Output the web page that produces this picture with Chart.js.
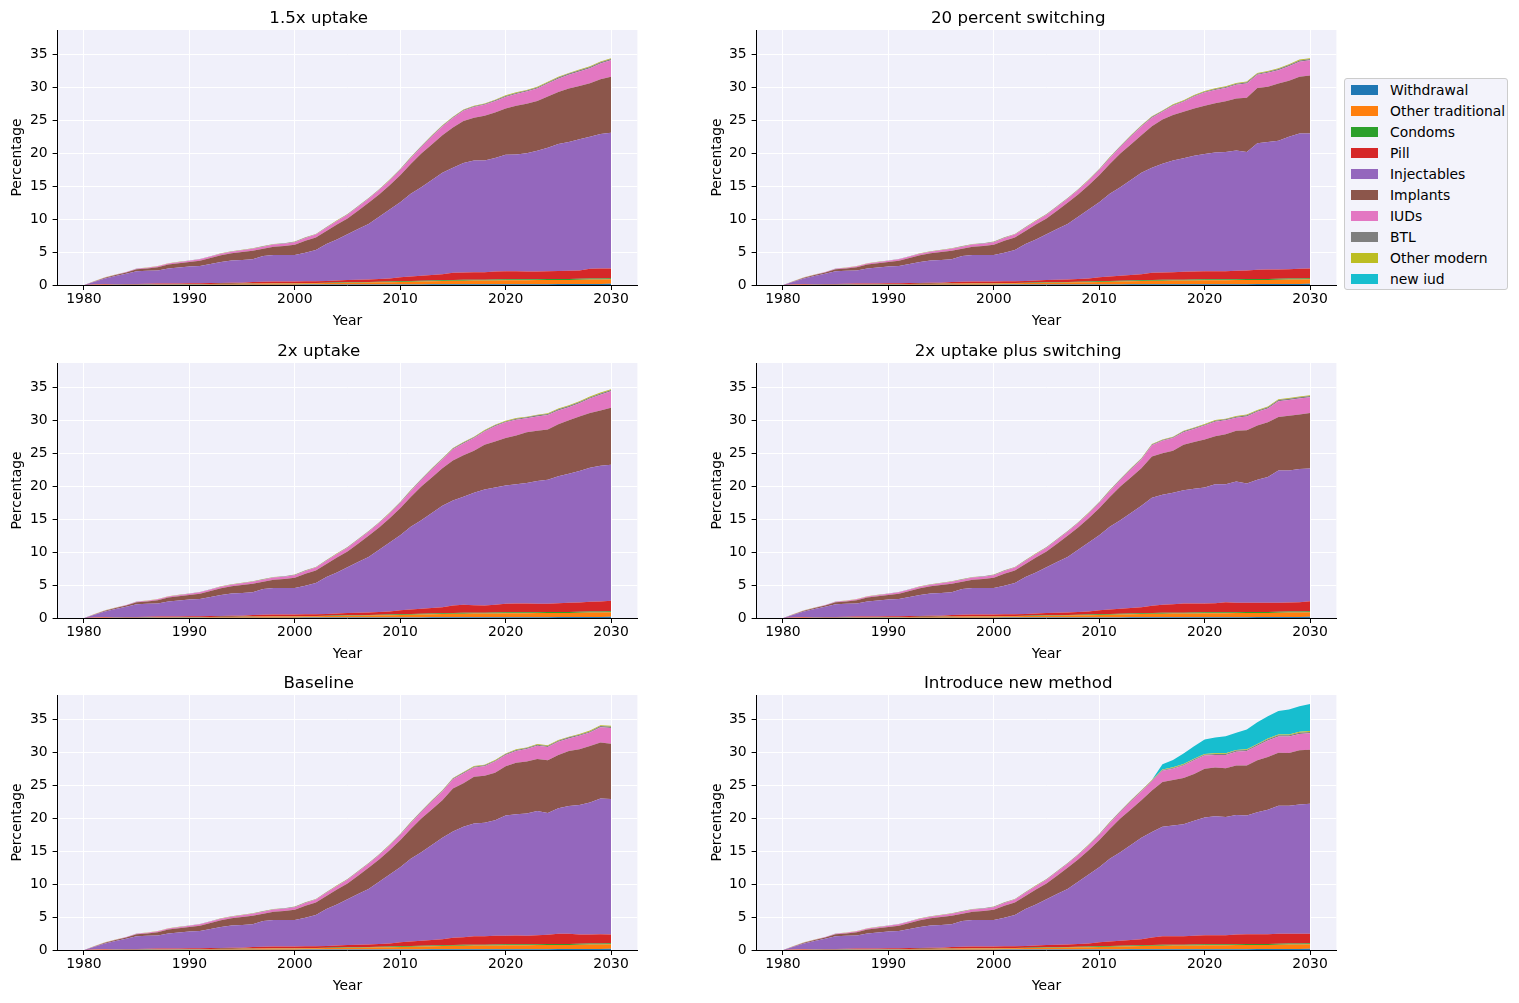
<!DOCTYPE html>
<html>
<head>
<meta charset="utf-8">
<script src="https://cdn.jsdelivr.net/npm/chart.js@4/dist/chart.umd.min.js"></script>
<style>
  html, body { margin:0; padding:0; background:#ffffff; }
  body { width:1519px; height:1003px; position:relative; overflow:hidden; font-family:"DejaVu Sans", sans-serif; }
  canvas { position:absolute; }
  #legend { position:absolute; left:1344px; top:78px; width:164px; height:212px; border:1px solid #cccccc; border-radius:3px; background:#f3f3fb; box-sizing:border-box; }
  .li { position:absolute; left:0; height:21px; width:164px; }
  .sw { position:absolute; left:6px; top:5.5px; width:27px; height:10px; }
  .lt { position:absolute; left:45px; top:0; line-height:21px; font-size:13.9px; color:#000; white-space:nowrap; }
</style>
</head>
<body>
<div id="legend"></div>
<script>
// ---------------- DATA ----------------
const years = [1980,1981,1982,1983,1984,1985,1986,1987,1988,1989,1990,1991,1992,1993,1994,1995,1996,1997,1998,1999,2000,2001,2002,2003,2004,2005,2006,2007,2008,2009,2010,2011,2012,2013,2014,2015,2016,2017,2018,2019,2020,2021,2022,2023,2024,2025,2026,2027,2028,2029,2030];
const xTickValues = [1980,1990,2000,2010,2020,2030];
const yTickValues = [0,5,10,15,20,25,30,35];
const methods = ['Withdrawal','Other traditional','Condoms','Pill','Injectables','Implants','IUDs','BTL','Other modern','new iud'];
const scenarioTitles = ['1.5x uptake','20 percent switching','2x uptake','2x uptake plus switching','Baseline','Introduce new method'];

// small methods (shared by all scenarios)
const withdrawal = [0,0.01,0.01,0.02,0.02,0.02,0.02,0.03,0.03,0.03, 0.03,0.03,0.04,0.04,0.04,0.04,0.05,0.05,0.05,0.05, 0.05,0.06,0.06,0.06,0.07,0.07,0.07,0.08,0.08,0.08, 0.09,0.09,0.09,0.1,0.1,0.1,0.11,0.11,0.11,0.12, 0.12,0.12,0.12,0.13,0.13,0.14,0.14,0.15,0.16,0.17,0.18];
const otherTraditional = [0,0.02,0.03,0.04,0.05,0.06,0.07,0.07,0.08,0.09, 0.1,0.1,0.11,0.12,0.13,0.14,0.15,0.16,0.17,0.18, 0.19,0.2,0.21,0.23,0.25,0.27,0.29,0.31,0.33,0.35, 0.38,0.41,0.44,0.47,0.5,0.53,0.55,0.56,0.57,0.58, 0.6,0.6,0.61,0.61,0.62,0.62,0.63,0.64,0.66,0.68,0.7];
const condoms = [0,0.01,0.01,0.01,0.01,0.01,0.01,0.02,0.02,0.02, 0.02,0.02,0.02,0.03,0.03,0.03,0.03,0.03,0.04,0.04, 0.04,0.05,0.05,0.06,0.06,0.07,0.07,0.08,0.08,0.09, 0.1,0.1,0.11,0.11,0.12,0.12,0.12,0.13,0.13,0.13, 0.14,0.14,0.14,0.14,0.15,0.15,0.15,0.15,0.15,0.15,0.15];
const btl = [0,0.01,0.01,0.02,0.02,0.02,0.03,0.03,0.03,0.03, 0.03,0.04,0.04,0.04,0.04,0.05,0.05,0.05,0.05,0.05, 0.06,0.06,0.06,0.07,0.07,0.07,0.08,0.08,0.08,0.09, 0.09,0.1,0.1,0.11,0.11,0.12,0.12,0.13,0.13,0.14, 0.14,0.15,0.15,0.16,0.16,0.17,0.17,0.18,0.18,0.19,0.2];
const otherModern = [0,0.01,0.01,0.01,0.01,0.01,0.01,0.01,0.02,0.02, 0.02,0.02,0.02,0.02,0.03,0.03,0.03,0.03,0.03,0.03, 0.04,0.04,0.04,0.04,0.05,0.05,0.05,0.05,0.06,0.06, 0.06,0.07,0.07,0.07,0.08,0.08,0.08,0.09,0.09,0.09, 0.1,0.1,0.1,0.1,0.11,0.11,0.11,0.11,0.12,0.12,0.12];
const newIudNone = [0,0,0,0,0,0,0,0,0,0, 0,0,0,0,0,0,0,0,0,0, 0,0,0,0,0,0,0,0,0,0, 0,0,0,0,0,0,0,0,0,0, 0,0,0,0,0,0,0,0,0,0,0];

// 1.5x uptake
const pill_15x = [0,0.02,0.05,0.05,0.06,0.07,0.08,0.09,0.1,0.1, 0.11,0.12,0.12,0.13,0.14,0.15,0.22,0.26,0.26,0.27, 0.27,0.26,0.24,0.26,0.3,0.34,0.37,0.38,0.41,0.47, 0.6,0.7,0.75,0.83,0.92, 1.1,1.12,1.12,1.13,1.21,1.24,1.22,1.19,1.18,1.17,1.2,1.24,1.27,1.49,1.51,1.47];
const inj_15x = [0,0.44,0.9,1.23,1.56,1.94,1.97,2.0,2.28,2.41, 2.54,2.62,2.9,3.18,3.36,3.44,3.45,3.9,4.03,4.01, 4.0,4.34,4.74,5.6,6.22,6.95,7.68,8.42,9.45,10.45, 11.4,12.55,13.45,14.42,15.38, 15.95,16.6,16.98,16.95,17.25,17.65,17.72,17.94,18.3,18.75,19.3,19.55,19.9,20.05,20.4,20.6];
const imp_15x = [0,0.05,0.1,0.15,0.2,0.3,0.35,0.5,0.6,0.65, 0.7,0.8,0.9,1.0,1.1,1.2,1.3,1.1,1.25,1.35, 1.55,1.8,1.9,2.0,2.3,2.4,2.8,3.2,3.4,3.7, 4.1,4.5,5.1,5.4,5.7, 6.1,6.4,6.5,6.8,6.9,7.05,7.4,7.5,7.55,7.8,7.9,8.1,8.1,8.1,8.3,8.5];
const iud_15x = [0,0.02,0.04,0.05,0.06,0.08,0.1,0.12,0.14,0.16, 0.18,0.2,0.22,0.24,0.26,0.28,0.3,0.32,0.35,0.37, 0.4,0.42,0.45,0.47,0.5,0.55,0.58,0.62,0.66,0.72, 0.8,0.9,1.0,1.2,1.35, 1.45,1.55,1.6,1.65,1.7,1.75,1.8,1.85,1.9,1.95,2.0,2.1,2.2,2.3,2.4,2.5];

// 20 percent switching
const pill_sw20 = [0,0.02,0.05,0.05,0.06,0.07,0.08,0.09,0.1,0.1, 0.11,0.12,0.12,0.13,0.14,0.15,0.22,0.26,0.26,0.27, 0.27,0.26,0.24,0.26,0.3,0.34,0.37,0.38,0.41,0.47, 0.6,0.7,0.75,0.83,0.92, 1.1,1.12,1.15,1.19,1.22,1.24,1.24,1.23,1.27,1.3,1.39,1.43,1.41,1.43,1.45,1.47];
const inj_sw20 = [0,0.44,0.9,1.23,1.56,1.94,1.97,2.0,2.28,2.41, 2.54,2.62,2.9,3.18,3.36,3.44,3.45,3.9,4.03,4.01, 4.0,4.34,4.74,5.6,6.22,6.95,7.68,8.42,9.45,10.45, 11.4,12.55,13.45,14.42,15.38, 15.95,16.5,16.95,17.25,17.55,17.8,18.0,18.1,18.25,18.0,19.2,19.35,19.55,20.1,20.55,20.5];
const imp_sw20 = [0,0.05,0.1,0.15,0.2,0.3,0.35,0.5,0.6,0.65, 0.7,0.8,0.9,1.0,1.1,1.2,1.3,1.1,1.25,1.35, 1.55,1.8,1.9,2.0,2.3,2.4,2.8,3.2,3.4,3.7, 4.1,4.5,5.1,5.4,5.7, 6.3,6.7,6.9,7.05,7.2,7.3,7.5,7.7,7.9,8.2,8.4,8.4,8.7,8.5,8.6,8.8];
const iud_sw20 = [0,0.02,0.04,0.05,0.06,0.08,0.1,0.12,0.14,0.16, 0.18,0.2,0.22,0.24,0.26,0.28,0.3,0.32,0.35,0.37, 0.4,0.42,0.45,0.47,0.5,0.55,0.58,0.62,0.66,0.72, 0.8,0.9,1.0,1.2,1.35, 1.3,1.2,1.4,1.5,1.8,2.0,2.0,2.0,2.1,2.2,2.0,2.1,2.0,2.2,2.3,2.3];

// 2x uptake
const pill_2x = [0,0.02,0.05,0.05,0.06,0.07,0.08,0.09,0.1,0.1, 0.11,0.12,0.12,0.13,0.14,0.15,0.22,0.26,0.26,0.27, 0.27,0.26,0.24,0.26,0.3,0.34,0.37,0.38,0.41,0.47, 0.6,0.7,0.75,0.83,0.92, 1.15,1.22,1.15,1.09,1.17,1.29,1.34,1.33,1.27,1.25,1.34,1.38,1.41,1.48,1.5,1.57];
const inj_2x = [0,0.44,0.9,1.23,1.56,1.94,1.97,2.0,2.28,2.41, 2.54,2.62,2.9,3.18,3.36,3.44,3.45,3.9,4.03,4.01, 4.0,4.34,4.74,5.6,6.22,6.95,7.68,8.42,9.45,10.45, 11.4,12.55,13.45,14.42,15.38, 15.95,16.4,17.05,17.6,17.8,17.95,18.1,18.3,18.65,18.85,19.25,19.6,19.95,20.35,20.6,20.65];
const imp_2x = [0,0.05,0.1,0.15,0.2,0.3,0.35,0.5,0.6,0.65, 0.7,0.8,0.9,1.0,1.1,1.2,1.3,1.1,1.25,1.35, 1.55,1.8,1.9,2.0,2.3,2.4,2.8,3.2,3.4,3.7, 4.1,4.5,5.1,5.4,5.7, 6.05,6.3,6.4,6.8,7.0,7.2,7.4,7.7,7.6,7.6,7.9,8.1,8.3,8.3,8.4,8.65];
const iud_2x = [0,0.02,0.04,0.05,0.06,0.08,0.1,0.12,0.14,0.16, 0.18,0.2,0.22,0.24,0.26,0.28,0.3,0.32,0.35,0.37, 0.4,0.42,0.45,0.47,0.5,0.55,0.58,0.62,0.66,0.72, 0.8,0.9,1.0,1.2,1.35, 1.7,1.8,1.9,2.0,2.3,2.4,2.4,2.1,2.2,2.2,2.1,2.0,2.0,2.2,2.4,2.5];

// 2x uptake plus switching
const pill_2xsw = [0,0.02,0.05,0.05,0.06,0.07,0.08,0.09,0.1,0.1, 0.11,0.12,0.12,0.13,0.14,0.15,0.22,0.26,0.26,0.27, 0.27,0.26,0.24,0.26,0.3,0.34,0.37,0.38,0.41,0.47, 0.6,0.7,0.75,0.83,0.92, 1.1,1.22,1.3,1.39,1.37,1.34,1.39,1.53,1.42,1.4,1.39,1.38,1.36,1.38,1.4,1.52];
const inj_2xsw = [0,0.44,0.9,1.23,1.56,1.94,1.97,2.0,2.28,2.41, 2.54,2.62,2.9,3.18,3.36,3.44,3.45,3.9,4.03,4.01, 4.0,4.34,4.74,5.6,6.22,6.95,7.68,8.42,9.45,10.45, 11.4,12.55,13.45,14.42,15.38, 16.4,16.7,16.9,17.2,17.4,17.6,18.05,17.9,18.4,18.1,18.7,19.1,20.1,20.05,20.2,20.15];
const imp_2xsw = [0,0.05,0.1,0.15,0.2,0.3,0.35,0.5,0.6,0.65, 0.7,0.8,0.9,1.0,1.1,1.2,1.3,1.1,1.25,1.35, 1.55,1.8,1.9,2.0,2.3,2.4,2.8,3.2,3.4,3.7, 4.1,4.5,5.1,5.4,5.7, 6.25,6.3,6.4,6.9,7.1,7.3,7.3,7.6,7.7,8.1,8.2,8.3,8.1,8.3,8.3,8.4];
const iud_2xsw = [0,0.02,0.04,0.05,0.06,0.08,0.1,0.12,0.14,0.16, 0.18,0.2,0.22,0.24,0.26,0.28,0.3,0.32,0.35,0.37, 0.4,0.42,0.45,0.47,0.5,0.55,0.58,0.62,0.66,0.72, 0.8,0.9,1.0,1.2,1.35, 1.7,1.9,1.9,1.9,2.0,2.1,2.2,2.1,2.0,2.1,2.1,2.1,2.4,2.4,2.4,2.4];

// Baseline
const pill_base = [0,0.02,0.05,0.05,0.06,0.07,0.08,0.09,0.1,0.1, 0.11,0.12,0.12,0.13,0.14,0.15,0.22,0.26,0.26,0.27, 0.27,0.26,0.24,0.26,0.3,0.34,0.37,0.38,0.41,0.47, 0.6,0.7,0.75,0.83,0.92, 1.12,1.17,1.3,1.29,1.32,1.31,1.34,1.28,1.37,1.4,1.56,1.55,1.41,1.38,1.4,1.34];
const inj_base = [0,0.44,0.9,1.23,1.56,1.94,1.97,2.0,2.28,2.41, 2.54,2.62,2.9,3.18,3.36,3.44,3.45,3.9,4.03,4.01, 4.0,4.34,4.74,5.6,6.22,6.95,7.68,8.42,9.45,10.45, 11.4,12.55,13.45,14.42,15.38, 16.13,16.75,17.1,17.2,17.55,18.23,18.4,18.55,18.85,18.5,19.03,19.38,19.65,20.05,20.6,20.53];
const imp_base = [0,0.05,0.1,0.15,0.2,0.3,0.35,0.5,0.6,0.65, 0.7,0.8,0.9,1.0,1.1,1.2,1.3,1.1,1.25,1.35, 1.55,1.8,1.9,2.0,2.3,2.4,2.8,3.2,3.4,3.7, 4.1,4.5,5.1,5.4,5.7, 6.5,6.6,7.1,7.15,7.2,7.5,7.8,7.9,7.9,8.0,8.1,8.35,8.45,8.55,8.5,8.4];
const iud_base = [0,0.02,0.04,0.05,0.06,0.08,0.1,0.12,0.14,0.16, 0.18,0.2,0.22,0.24,0.26,0.28,0.3,0.32,0.35,0.37, 0.4,0.42,0.45,0.47,0.5,0.55,0.58,0.62,0.66,0.72, 0.8,0.9,1.0,1.2,1.35, 1.4,1.5,1.4,1.45,1.7,1.7,1.8,1.9,2.0,2.0,2.0,1.9,2.05,2.05,2.3,2.4];

// Introduce new method
const pill_new = [0,0.02,0.05,0.05,0.06,0.07,0.08,0.09,0.1,0.1, 0.11,0.12,0.12,0.13,0.14,0.15,0.22,0.26,0.26,0.27, 0.27,0.26,0.24,0.26,0.3,0.34,0.37,0.38,0.41,0.47, 0.6,0.7,0.75,0.83,0.92, 1.15,1.32,1.3,1.29,1.32,1.39,1.39,1.38,1.47,1.5,1.49,1.48,1.51,1.48,1.45,1.42];
const inj_new = [0,0.44,0.9,1.23,1.56,1.94,1.97,2.0,2.28,2.41, 2.54,2.62,2.9,3.18,3.36,3.44,3.45,3.9,4.03,4.01, 4.0,4.34,4.74,5.6,6.22,6.95,7.68,8.42,9.45,10.45, 11.4,12.55,13.45,14.42,15.38, 16.0,16.6,16.8,17.0,17.45,17.85,18.05,17.95,18.15,18.0,18.5,18.9,19.45,19.45,19.65,19.75];
const imp_new = [0,0.05,0.1,0.15,0.2,0.3,0.35,0.5,0.6,0.65, 0.7,0.8,0.9,1.0,1.1,1.2,1.3,1.1,1.25,1.35, 1.55,1.8,1.9,2.0,2.3,2.4,2.8,3.2,3.4,3.7, 4.1,4.5,5.1,5.4,5.7, 6.3,6.8,6.9,7.0,7.1,7.4,7.4,7.4,7.5,7.6,7.9,8.0,8.05,8.0,8.2,8.2];
const iud_new = [0,0.02,0.04,0.05,0.06,0.08,0.1,0.12,0.14,0.16, 0.18,0.2,0.22,0.24,0.26,0.28,0.3,0.32,0.35,0.37, 0.4,0.42,0.45,0.47,0.5,0.55,0.58,0.62,0.66,0.72, 0.8,0.9,1.0,1.2,1.35, 1.4,1.7,1.7,1.9,2.1,2.0,1.9,2.0,2.1,2.2,2.2,2.5,2.45,2.5,2.5,2.5];
const newiud_new = [0,0,0,0,0,0,0,0,0,0, 0,0,0,0,0,0,0,0,0,0, 0,0,0,0,0,0,0,0,0,0, 0,0,0,0,0, 0,0.8,1.1,1.6,1.9,2.2,2.4,2.6,2.6,3.0,3.3,3.4,3.6,3.8,3.9,4.1];

// ---------------- STYLE ----------------
const colors = ['#1f77b4','#ff7f0e','#2ca02c','#d62728','#9467bd','#8c564b','#e377c2','#7f7f7f','#bcbd22','#17becf'];
const FONT = '"DejaVu Sans", sans-serif';
const AX_BG = '#f0f0fa';

const panels = [
  { series:[withdrawal,otherTraditional,condoms,pill_15x,inj_15x,imp_15x,iud_15x,btl,otherModern,newIudNone], col:0, row:0 },
  { series:[withdrawal,otherTraditional,condoms,pill_sw20,inj_sw20,imp_sw20,iud_sw20,btl,otherModern,newIudNone], col:1, row:0 },
  { series:[withdrawal,otherTraditional,condoms,pill_2x,inj_2x,imp_2x,iud_2x,btl,otherModern,newIudNone], col:0, row:1 },
  { series:[withdrawal,otherTraditional,condoms,pill_2xsw,inj_2xsw,imp_2xsw,iud_2xsw,btl,otherModern,newIudNone], col:1, row:1 },
  { series:[withdrawal,otherTraditional,condoms,pill_base,inj_base,imp_base,iud_base,btl,otherModern,newIudNone], col:0, row:2 },
  { series:[withdrawal,otherTraditional,condoms,pill_new,inj_new,imp_new,iud_new,btl,otherModern,newiud_new], col:1, row:2 }
];
panels.forEach(p => p.series.forEach(s => { if (s.length !== years.length) throw new Error('bad length ' + s.length); }));

// geometry (pixels)
const colCanvasLeft = [0, 700];
const colAxisLeft = [57.6, 756.6];
const colAxisRight = [637.4, 1336.4];
const rowCanvasTop = [0, 333, 665];
const CANVAS_W = 650, CANVAS_H = 335;
const XAXIS_H = 46, BOTTOM_PAD = 4;

const bgPlugin = {
  id: 'axbg',
  beforeDraw(chart) {
    const a = chart.chartArea; const ctx = chart.ctx;
    ctx.save(); ctx.fillStyle = AX_BG; ctx.fillRect(a.left, a.top, a.right - a.left, a.bottom - a.top); ctx.restore();
  }
};

panels.forEach((p, k) => {
  const cv = document.createElement('canvas');
  cv.width = CANVAS_W; cv.height = CANVAS_H;
  cv.style.left = colCanvasLeft[p.col] + 'px';
  cv.style.top = rowCanvasTop[p.row] + 'px';
  cv.style.width = CANVAS_W + 'px'; cv.style.height = CANVAS_H + 'px';
  document.body.appendChild(cv);
  const yW = colAxisLeft[p.col] - colCanvasLeft[p.col];
  const rightPad = colCanvasLeft[p.col] + CANVAS_W - colAxisRight[p.col];
  const datasets = p.series.map((arr, i) => ({
    label: methods[i],
    data: years.map((yr, j) => ({ x: yr, y: arr[j] })),
    backgroundColor: colors[i],
    borderColor: 'rgba(0,0,0,0)',
    borderWidth: 0,
    pointRadius: 0,
    pointHoverRadius: 0,
    tension: 0,
    fill: i === 0 ? 'origin' : '-1'
  }));
  new Chart(cv, {
    type: 'line',
    data: { datasets },
    plugins: [bgPlugin],
    options: {
      responsive: false, animation: false, devicePixelRatio: 1, events: [],
      layout: { padding: { left: 0, right: rightPad, top: 0, bottom: BOTTOM_PAD } },
      plugins: {
        legend: { display: false }, tooltip: { enabled: false },
        title: { display: true, text: scenarioTitles[k], color: '#000', font: { family: FONT, size: 16.67, weight: 'normal', lineHeight: 1.2 }, padding: { top: 9, bottom: 1 } }
      },
      scales: {
        x: {
          type: 'linear', min: 1977.5, max: 2032.5,
          afterBuildTicks: s => { s.ticks = xTickValues.map(v => ({ value: v })); },
          afterFit: s => { s.height = XAXIS_H; },
          grid: { color: '#ffffff', lineWidth: 1, drawTicks: true, tickLength: 5, tickColor: '#000', tickWidth: 1 },
          border: { display: true, color: '#000', width: 1 },
          ticks: { color: '#000', font: { family: FONT, size: 13.9 }, padding: 1, maxRotation: 0, autoSkip: false, callback: v => String(v) },
          title: { display: true, text: 'Year', color: '#000', font: { family: FONT, size: 13.9 }, padding: { top: 0, bottom: 1 } }
        },
        y: {
          type: 'linear', stacked: true, min: 0, max: 38.7,
          afterBuildTicks: s => { s.ticks = yTickValues.map(v => ({ value: v })); },
          afterFit: s => { s.width = yW; },
          grid: { color: '#ffffff', lineWidth: 1, drawTicks: true, tickLength: 5, tickColor: '#000', tickWidth: 1 },
          border: { display: true, color: '#000', width: 1 },
          ticks: { color: '#000', font: { family: FONT, size: 13.9 }, padding: 5, autoSkip: false, callback: v => String(v) },
          title: { display: true, text: 'Percentage', color: '#000', font: { family: FONT, size: 13.9 }, padding: { top: 8.7, bottom: 0 } }
        }
      }
    }
  });
});

// legend (HTML text)
const leg = document.getElementById('legend');
methods.forEach((m, i) => {
  const d = document.createElement('div');
  d.className = 'li';
  d.style.top = (0.7 + 21.0 * i) + 'px';
  const sw = document.createElement('div'); sw.className = 'sw'; sw.style.background = colors[i];
  const t = document.createElement('div'); t.className = 'lt'; t.textContent = m;
  d.appendChild(sw); d.appendChild(t); leg.appendChild(d);
});
</script>
</body>
</html>
